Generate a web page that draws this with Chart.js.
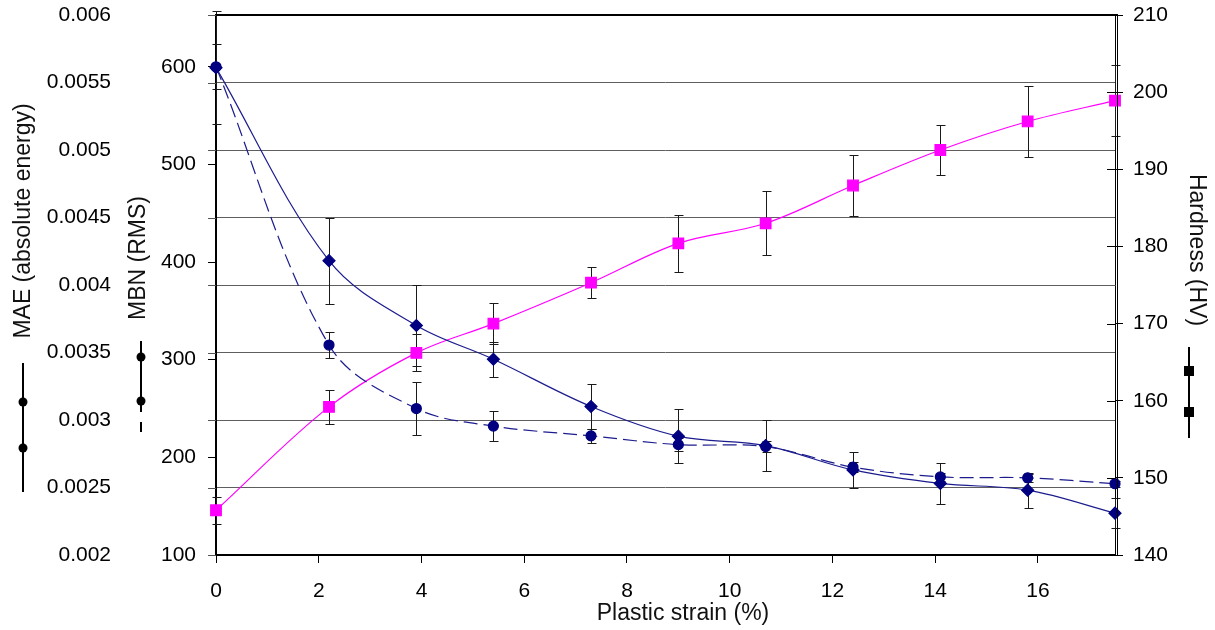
<!DOCTYPE html>
<html>
<head>
<meta charset="utf-8">
<script src="https://cdn.jsdelivr.net/npm/chart.js@4.4.0/dist/chart.umd.min.js"></script>
<style>
  html, body { margin: 0; padding: 0; background: #fff; }
  #wrap { width: 1215px; height: 630px; }
</style>
</head>
<body>
<div id="wrap"><canvas id="chart" width="1215" height="630"></canvas></div>
<script>
// plastic strain (%) of each sample
var strain = [0, 2.2, 3.9, 5.4, 7.3, 9.0, 10.7, 12.4, 14.1, 15.8, 17.5];

// MAE (absolute energy), solid line
var maeValues = [0.00561, 0.00418, 0.00370, 0.00345, 0.00310, 0.00288, 0.00281, 0.00263, 0.00253, 0.00248, 0.00231];
var maeErrors = [0.00042, 0.00032, 0.00030, 0.00013, 0.00017, 0.00020, 0.00019, 0.00013, 0.00015, 0.00013, 0.00011];

// MBN (RMS), dashed line
var mbnValues = [600, 315, 250, 232, 222, 213, 211, 190, 180, 179, 173];
var mbnErrors = [23, 13, 27, 15, 7, 7, 6, 5, 4, 4, 3];

// Hardness (HV)
var hardnessValues = [145.8, 159.2, 166.2, 170.0, 175.3, 180.4, 183.0, 187.9, 192.5, 196.2, 198.9];
var hardnessErrors = [1.75, 2.2, 2.4, 2.7, 2.0, 3.7, 4.15, 4.0, 3.25, 4.6, 4.6];

// tick labels of the four axes
var xTicks = [0, 2, 4, 6, 8, 10, 12, 14, 16];
var maeTicks = [0.002, 0.0025, 0.003, 0.0035, 0.004, 0.0045, 0.005, 0.0055, 0.006];
var mbnTicks = [100, 200, 300, 400, 500, 600];
var hardnessTicks = [140, 150, 160, 170, 180, 190, 200, 210];

var FONT = '"Liberation Sans", Arial, sans-serif';
Chart.defaults.font.family = FONT;
Chart.defaults.color = '#000';

function points(values) {
  return strain.map(function(s, i) { return { x: s, y: values[i] }; });
}
function setTicks(list) {
  return function(scale) { scale.ticks = list.map(function(v) { return { value: v }; }); };
}
// fixed axis sizes, no extra room for the end labels
function fitY(w) {
  return function(s) { s.width = w; s.paddingTop = 0; s.paddingBottom = 0; };
}

// error bars, grid stubs, titles and the little legend keys beside the titles
var extras = {
  id: 'extras',
  beforeDatasetsDraw: function(chart) {
    var ctx = chart.ctx, xs = chart.scales.x;
    function bars(values, errors, scale) {
      ctx.save();
      ctx.strokeStyle = '#1a1a1a';
      ctx.lineWidth = 1;
      for (var i = 0; i < values.length; i++) {
        var px = Math.round(xs.getPixelForValue(strain[i])) + 0.5;
        var top = Math.round(scale.getPixelForValue(values[i] + errors[i])) + 0.5;
        var bot = Math.round(scale.getPixelForValue(values[i] - errors[i])) + 0.5;
        ctx.beginPath();
        ctx.moveTo(px, top); ctx.lineTo(px, bot);
        ctx.moveTo(px - 4, top); ctx.lineTo(px + 5, top);
        ctx.moveTo(px - 4, bot); ctx.lineTo(px + 5, bot);
        ctx.stroke();
      }
      ctx.restore();
    }
    bars(hardnessValues, hardnessErrors, chart.scales.yHV);
    bars(mbnValues, mbnErrors, chart.scales.yMBN);
    bars(maeValues, maeErrors, chart.scales.yMAE);
  },
  afterDraw: function(chart) {
    var ctx = chart.ctx, a = chart.chartArea;
    ctx.save();
    // grid lines poke out left of the axis
    ctx.strokeStyle = '#555';
    ctx.lineWidth = 1;
    maeTicks.forEach(function(v) {
      var y = Math.round(chart.scales.yMAE.getPixelForValue(v)) + 0.5;
      ctx.beginPath(); ctx.moveTo(a.left - 8, y); ctx.lineTo(a.left, y); ctx.stroke();
    });
    // hardness ticks cross the right axis
    ctx.strokeStyle = '#000';
    hardnessTicks.forEach(function(v) {
      var y = Math.round(chart.scales.yHV.getPixelForValue(v)) + 0.5;
      ctx.beginPath(); ctx.moveTo(a.right - 8, y); ctx.lineTo(a.right, y); ctx.stroke();
    });
    // frame: top line and the doubled right line
    ctx.lineWidth = 2;
    ctx.beginPath(); ctx.moveTo(a.left, a.top); ctx.lineTo(a.right + 3, a.top); ctx.stroke();
    ctx.lineWidth = 1;
    ctx.beginPath(); ctx.moveTo(a.right + 2.5, a.top); ctx.lineTo(a.right + 2.5, a.bottom); ctx.stroke();

    // titles
    ctx.fillStyle = '#111';
    ctx.font = '23px ' + FONT;
    ctx.textAlign = 'center';
    ctx.textBaseline = 'middle';
    function vtext(txt, x, y, rot) {
      ctx.save(); ctx.translate(x, y); ctx.rotate(rot); ctx.fillText(txt, 0, 0); ctx.restore();
    }
    vtext('MAE (absolute energy)', 24, 221, -Math.PI / 2);
    vtext('MBN (RMS)', 139, 258, -Math.PI / 2);
    vtext('Hardness (HV)', 1196, 250, Math.PI / 2);
    ctx.textBaseline = 'alphabetic';
    ctx.fillText('Plastic strain (%)', 683, 620);

    // legend keys
    ctx.strokeStyle = '#000';
    ctx.fillStyle = '#000';
    ctx.lineWidth = 2;
    function dot(x, y) { ctx.beginPath(); ctx.arc(x, y, 4.5, 0, Math.PI * 2); ctx.fill(); }
    ctx.beginPath(); ctx.moveTo(23, 363); ctx.lineTo(23, 492); ctx.stroke();
    dot(23, 402); dot(23, 448);
    ctx.beginPath(); ctx.moveTo(141, 341); ctx.lineTo(141, 412); ctx.moveTo(141, 422); ctx.lineTo(141, 432); ctx.stroke();
    dot(141, 357); dot(141, 401);
    ctx.beginPath(); ctx.moveTo(1189, 347); ctx.lineTo(1189, 438); ctx.stroke();
    ctx.fillRect(1184, 366, 10, 10); ctx.fillRect(1184, 407, 10, 10);
    ctx.restore();
  }
};

var ctx = document.getElementById('chart').getContext('2d');
new Chart(ctx, {
  type: 'line',
  data: {
    datasets: [
      {
        label: 'MAE',
        yAxisID: 'yMAE',
        data: points(maeValues),
        borderColor: '#1c1c8e',
        borderWidth: 1.2,
        tension: 0.35,
        pointStyle: 'rectRot',
        pointRadius: 6,
        pointBackgroundColor: '#000080',
        pointBorderColor: '#000080',
        clip: false
      },
      {
        label: 'MBN',
        yAxisID: 'yMBN',
        data: points(mbnValues),
        borderColor: '#1c1c8e',
        borderWidth: 1.2,
        borderDash: [14, 6],
        tension: 0.35,
        pointStyle: 'circle',
        pointRadius: 5,
        pointBackgroundColor: '#000080',
        pointBorderColor: '#000080',
        clip: false
      },
      {
        label: 'Hardness',
        yAxisID: 'yHV',
        data: points(hardnessValues),
        borderColor: '#ff00ff',
        borderWidth: 1.2,
        tension: 0.35,
        pointStyle: 'rect',
        pointRadius: 7.5,
        pointBackgroundColor: '#ff00ff',
        pointBorderColor: '#ff00ff',
        clip: false
      }
    ]
  },
  options: {
    responsive: false,
    animation: false,
    devicePixelRatio: 1,
    layout: { padding: { top: 15, right: 0, bottom: 0, left: 0 } },
    plugins: { legend: { display: false }, tooltip: { enabled: false } },
    scales: {
      x: {
        type: 'linear',
        position: 'bottom',
        min: 0,
        max: 17.5,
        afterBuildTicks: setTicks(xTicks),
        afterFit: function(s) { s.height = 75; s.paddingLeft = 0; s.paddingRight = 0; },
        ticks: { font: { size: 21 }, padding: 16, autoSkip: false, maxRotation: 0 },
        grid: { drawOnChartArea: false, tickLength: 8, color: '#000' },
        border: { color: '#000', width: 2 }
      },
      yMAE: {
        type: 'linear',
        position: 'left',
        weight: 1,
        min: 0.002,
        max: 0.006,
        afterBuildTicks: setTicks(maeTicks),
        afterFit: fitY(120),
        ticks: {
          font: { size: 21 }, padding: 9, autoSkip: false,
          callback: function(v) { return String(Number(v.toFixed(4))); }
        },
        grid: { drawTicks: false, color: '#5e5e5e', lineWidth: 1 },
        border: { display: false }
      },
      yMBN: {
        type: 'linear',
        position: 'left',
        weight: 0,
        min: 100,
        max: 653,
        afterBuildTicks: setTicks(mbnTicks),
        afterFit: fitY(96),
        ticks: { font: { size: 21 }, padding: 12, autoSkip: false },
        grid: { drawOnChartArea: false, tickLength: 8, color: '#000' },
        border: { color: '#000', width: 2 }
      },
      yHV: {
        type: 'linear',
        position: 'right',
        min: 140,
        max: 210,
        afterBuildTicks: setTicks(hardnessTicks),
        afterFit: fitY(100),
        ticks: { font: { size: 21 }, padding: 10, autoSkip: false },
        grid: { drawOnChartArea: false, tickLength: 8, color: '#000' },
        border: { color: '#000', width: 1 }
      }
    }
  },
  plugins: [extras]
});
</script>
</body>
</html>
